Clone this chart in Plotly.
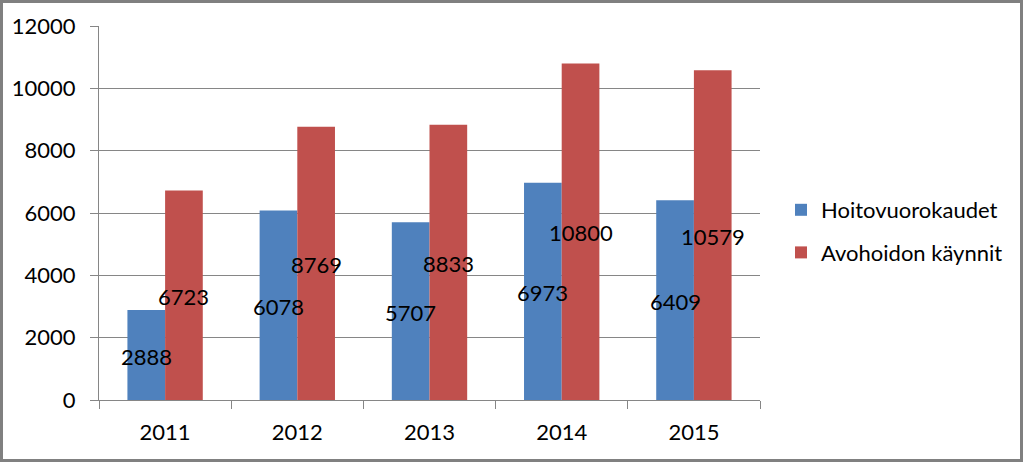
import plotly.graph_objects as go

years = ["2011", "2012", "2013", "2014", "2015"]
hoito = [2888, 6078, 5707, 6973, 6409]
avo = [6723, 8769, 8833, 10800, 10579]
series_names = ["Hoitovuorokaudet", "Avohoidon käynnit"]
y_ticks = [0, 2000, 4000, 6000, 8000, 10000, 12000]

W, H = 1023, 462
L, R, T, B = 99, 263, 26, 62
pw, ph = W - L - R, H - T - B
FONT = "Lato"
FS = 22
BARGAP = 0.43

fig = go.Figure()
colors = ["#4F81BD", "#C0504D"]
for name, vals, col, grp in [(series_names[0], hoito, colors[0], "a"),
                             (series_names[1], avo, colors[1], "b")]:
    fig.add_trace(go.Bar(
        x=years, y=vals, name=name, marker_color=col, marker_line_width=0,
        legendgroup=grp, hoverinfo="skip",
    ))

# data labels centred on each bar (drawn above all bars)
cat_w = pw / len(years)
bar_w = cat_w * (1 - BARGAP) / 2
annotations = []
for vals, sign in [(hoito, -1), (avo, 1)]:
    for i, v in enumerate(vals):
        annotations.append(dict(
            x=i, y=v / 2, xref="x", yref="y", text=str(v), showarrow=False,
            xshift=sign * bar_w / 2, yshift=-1,
            font=dict(family=FONT, size=FS, color="black"),
        ))

def px_x(p):
    return (p - L) / pw

def px_y(p):
    return (H - B - p) / ph

fig.update_layout(
    width=W, height=H,
    margin=dict(l=L, r=R, t=T, b=B, pad=0, autoexpand=False),
    paper_bgcolor="white", plot_bgcolor="white",
    barmode="group", bargap=BARGAP, bargroupgap=0,
    font=dict(family=FONT, size=FS, color="black"),
    showlegend=True,
    legend=dict(x=px_x(781), y=px_y(189), xanchor="left", yanchor="top",
                traceorder="grouped", tracegroupgap=11,
                font=dict(size=FS, family=FONT), bgcolor="rgba(0,0,0,0)"),
    xaxis=dict(type="category", range=[-0.5, 4.5], autorange=False,
               showline=True, linecolor="#868686", linewidth=1,
               ticks="outside", ticklen=8, tickcolor="#868686",
               tickson="boundaries", showgrid=False, tickangle=0,
               automargin=False, ticklabelstandoff=13, fixedrange=True),
    yaxis=dict(range=[0, 12000], autorange=False, tickvals=y_ticks,
               ticktext=[str(v) for v in y_ticks], showline=True,
               linecolor="#868686", linewidth=1, ticks="outside", ticklen=8,
               tickcolor="#868686", showgrid=True, gridcolor="#868686",
               gridwidth=1, zeroline=False, ticklabelstandoff=10,
               automargin=False, fixedrange=True),
    annotations=annotations,
    shapes=[dict(type="rect", xref="paper", yref="paper",
                 x0=px_x(1.5), x1=px_x(1021.5), y0=px_y(1.5), y1=px_y(460.5),
                 line=dict(color="#808080", width=3), fillcolor="rgba(0,0,0,0)",
                 layer="above")],
)

fig.write_html("out.html")
